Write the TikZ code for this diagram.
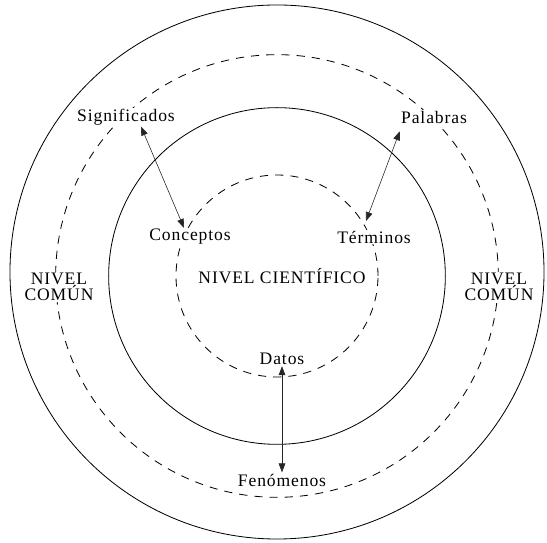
\documentclass[tikz,border=0pt]{standalone}
\usepackage{fontspec}
\setmainfont{Liberation Serif}
\usetikzlibrary{arrows.meta}
\tikzset{
  lbl/.style={font=\fontsize{15}{17}\selectfont\addfontfeatures{LetterSpace=5}, fill=white, inner sep=1pt, align=center},
  arr/.style={{Triangle[length=2.7mm,width=2mm]}-{Triangle[length=2.7mm,width=2mm]}, black!85, line width=0.5pt},
  ring/.style={line width=0.7pt},
  dashring/.style={line width=0.7pt, dash pattern=on 7pt off 6pt}
}
\begin{document}
\begin{tikzpicture}[x=0.03cm,y=-0.03cm]
        \useasboundingbox (0,0) rectangle (547,543);
        \coordinate (O) at (277,276);
        \draw[ring] (277,272) circle[radius=8.01cm];
        \draw[dashring] (O) circle[radius=6.64cm];
        \draw[ring] (O) circle[radius=5.05cm];
        \draw[dashring] (O) circle[radius=3.03cm];
        \node[lbl] (sig) at (126,117) {Significados};
        \node[lbl] (pal) at (434,117) {Palabras};
        \node[lbl] (con) at (190,237) {Conceptos};
        \node[lbl] (ter) at (374,237) {Términos};
        \node[lbl, fill=none] (cien) at (282,276) {NIVEL CIENTÍFICO};
        \node[lbl] (izq) at (59,287) {NIVEL\\[-3pt]COMÚN};
        \node[lbl] (der) at (499,287) {NIVEL\\[-3pt]COMÚN};
        \node[lbl] (dat) at (282,359) {Datos};
        \node[lbl] (fen) at (282,480) {Fenómenos};
        \draw[arr] ([xshift=0.45cm]sig.south) -- ([xshift=-0.18cm]con.north);
        \draw[arr] ([yshift=-0.2cm]pal.south west) -- ([xshift=-0.24cm,yshift=0.25cm]ter.north);
        \draw[arr] (dat.south) -- (fen.north);
        \end{tikzpicture}
\end{document}
